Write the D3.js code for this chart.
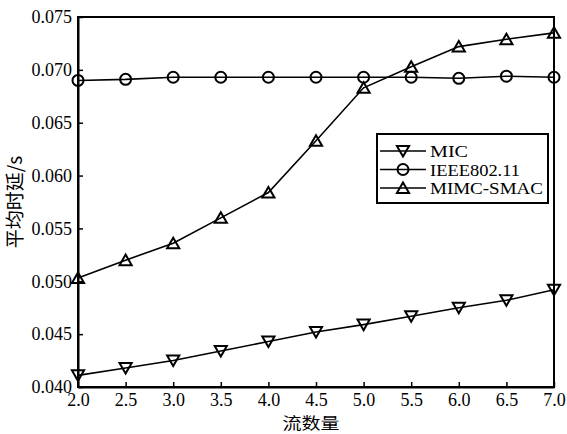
<!DOCTYPE html>
<html><head><meta charset="utf-8">
<script src="https://cdn.jsdelivr.net/npm/d3@7"></script>
<style>body{margin:0;background:#fff}</style>
</head><body>
<svg id="c" width="567" height="434"></svg>
<script>
const xValues = [2.0, 2.5, 3.0, 3.5, 4.0, 4.5, 5.0, 5.5, 6.0, 6.5, 7.0];
const micValues = [0.0411, 0.0418, 0.0425, 0.0434, 0.0443, 0.0452, 0.0459, 0.0467, 0.0475, 0.0482, 0.0492];
const ieeeValues = [0.0690, 0.0691, 0.0693, 0.0693, 0.0693, 0.0693, 0.0693, 0.0693, 0.0692, 0.0694, 0.0693];
const mimcValues = [0.0503, 0.0520, 0.0536, 0.0560, 0.0584, 0.0633, 0.0683, 0.0703, 0.0722, 0.0729, 0.0735];
const seriesNames = ["MIC", "IEEE802.11", "MIMC-SMAC"];
const xTicks = [2.0, 2.5, 3.0, 3.5, 4.0, 4.5, 5.0, 5.5, 6.0, 6.5, 7.0];
const yTicks = [0.040, 0.045, 0.050, 0.055, 0.060, 0.065, 0.070, 0.075];
const xLabel = "流数量";
const yLabel = "平均时延/s";

const svg = d3.select("#c");
const L = 78, R = 554, T = 17, B = 387;
const x = d3.scaleLinear().domain([2, 7]).range([L, R]);
const y = d3.scaleLinear().domain([0.040, 0.075]).range([B, T]);
const font = "'Liberation Serif', 'Times New Roman', serif";
const cjk = "'Noto Sans CJK SC', sans-serif";

// frame
svg.append("rect").attr("x", L).attr("y", T).attr("width", R - L).attr("height", B - T)
  .attr("fill", "none").attr("stroke", "#000").attr("stroke-width", 2);

// axes
const xAxis = d3.axisBottom(x).tickValues(xTicks).tickSizeInner(-5).tickSizeOuter(0).tickPadding(6)
  .tickFormat(d3.format(".1f"));
const gx = svg.append("g").attr("transform", `translate(0,${B})`).call(xAxis);
gx.select(".domain").attr("stroke-width", 2);
gx.selectAll(".tick line").attr("stroke-width", 1.5);
gx.selectAll("text").attr("font-family", font).attr("font-size", 18).attr("fill", "#000");

const yAxis = d3.axisLeft(y).tickValues(yTicks).tickSizeInner(-5).tickSizeOuter(0).tickPadding(6)
  .tickFormat(d3.format(".3f"));
const gy = svg.append("g").attr("transform", `translate(${L},0)`).call(yAxis);
gy.select(".domain").attr("stroke-width", 2);
gy.selectAll(".tick line").attr("stroke-width", 1.5);
gy.selectAll("text").attr("font-family", font).attr("font-size", 18).attr("fill", "#000");

// labels
svg.append("text").attr("x", (L + R) / 2 - 5).attr("y", 429).attr("text-anchor", "middle")
  .attr("font-family", cjk).attr("font-size", 16).attr("textLength", 57).attr("lengthAdjust", "spacingAndGlyphs")
  .text(xLabel);
svg.append("text").attr("transform", `translate(22,${(T + B) / 2}) rotate(-90)`).attr("text-anchor", "middle")
  .attr("font-family", cjk).attr("font-size", 19).text(yLabel);

// series
const line = d3.line().x(d => x(d[0])).y(d => y(d[1]));
const tri = d3.symbol().type(d3.symbolTriangle).size(64);
function drawMarker(g, type, cx, cy) {
  if (type === "circle") {
    g.append("circle").attr("cx", cx).attr("cy", cy).attr("r", 5.5)
      .attr("fill", "none").attr("stroke", "#000").attr("stroke-width", 2);
  } else {
    const rot = type === "down" ? 180 : 0;
    const off = type === "down" ? -1.5 : 1.5;
    g.append("path").attr("d", tri())
      .attr("transform", `translate(${cx},${cy + off}) rotate(${rot})`)
      .attr("fill", "none").attr("stroke", "#000").attr("stroke-width", 2);
  }
}
const series = [
  {name: seriesNames[0], values: micValues, marker: "down"},
  {name: seriesNames[1], values: ieeeValues, marker: "circle"},
  {name: seriesNames[2], values: mimcValues, marker: "up"}
];
series.forEach(s => {
  const pts = xValues.map((xv, i) => [xv, s.values[i]]);
  svg.append("path").datum(pts).attr("d", line).attr("fill", "none")
    .attr("stroke", "#000").attr("stroke-width", 1.6);
  const g = svg.append("g");
  pts.forEach(p => drawMarker(g, s.marker, x(p[0]), y(p[1])));
});

// legend
const lg = svg.append("g");
lg.append("rect").attr("x", 377).attr("y", 134).attr("width", 171).attr("height", 69)
  .attr("fill", "#fff").attr("stroke", "#000").attr("stroke-width", 2);
series.forEach((s, i) => {
  const yy = 151 + i * 18.5;
  lg.append("line").attr("x1", 380).attr("x2", 426).attr("y1", yy).attr("y2", yy)
    .attr("stroke", "#000").attr("stroke-width", 1.6);
  drawMarker(lg, s.marker, 403, yy);
  lg.append("text").attr("x", 430).attr("y", yy + 6).attr("font-family", font).attr("font-size", 17)
    .attr("textLength", [38, 90, 113][i]).attr("lengthAdjust", "spacingAndGlyphs")
    .text(s.name);
});
</script>
</body></html>
